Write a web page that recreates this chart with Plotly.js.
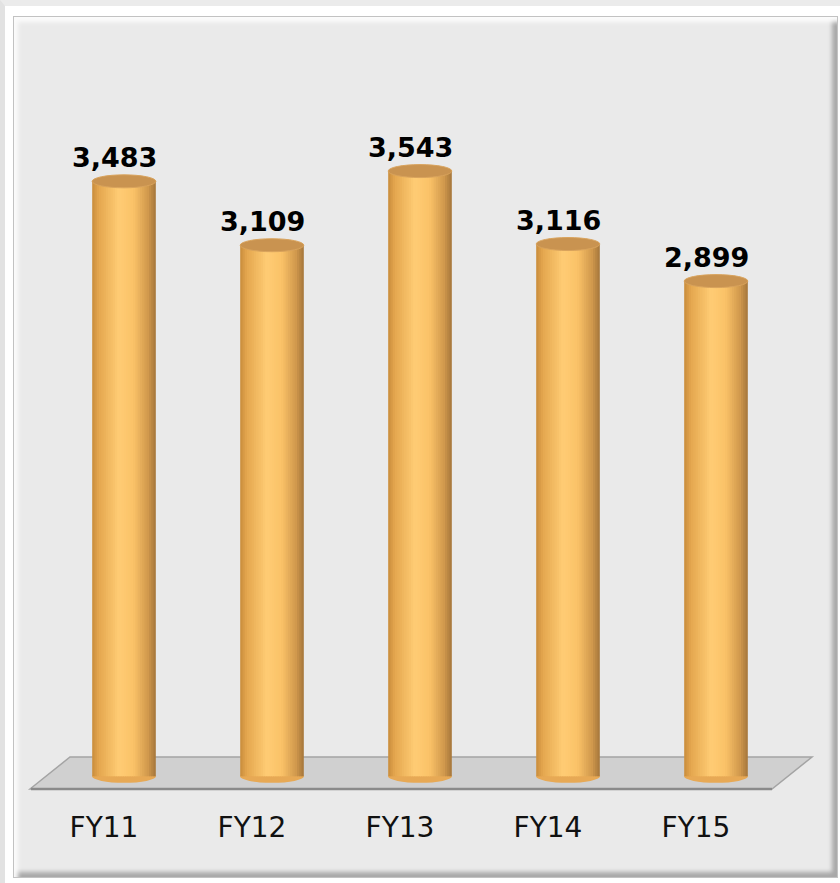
<!DOCTYPE html>
<html>
<head>
<meta charset="utf-8">
<script src="https://cdn.plot.ly/plotly-3.0.1.min.js"></script>
<style>
html,body{margin:0;padding:0;background:#fff;}
#wrap{position:relative;width:840px;height:883px;overflow:hidden;background:#fff;}
#outer{position:absolute;left:0;top:0;width:840px;height:883px;box-sizing:border-box;
  border-top:6px solid #ebebeb;border-left:5px solid #e2e2e2;}
#panel{position:absolute;left:13px;top:16px;width:825px;height:862px;box-sizing:border-box;
  background:#eaeaea;border:1px solid #c2c2c2;
  box-shadow: inset 4px 5px 4px #fbfbfb, inset -5px -5px 4px #a8a8a8;}
#chart{position:absolute;left:0;top:0;width:840px;height:883px;}
</style>
</head>
<body>
<div id="wrap">
  <div id="outer"></div>
  <div id="panel"></div>
  <div id="chart"></div>
</div>
<script>
// ---- data ----
const categories = ['FY11', 'FY12', 'FY13', 'FY14', 'FY15'];
const values = [3483, 3109, 3543, 3116, 2899];
const valueLabels = ['3,483', '3,109', '3,543', '3,116', '2,899'];

// ---- style ----
const positions = categories.map((c, i) => i);
const BW = 0.43;             // cylinder width (category units)
const EH = 38;               // ellipse half-height (value units)
const NSTRIP = 28;
const stops = [
  [0.00, [200, 140, 60]],
  [0.10, [228, 166, 78]],
  [0.42, [255, 204, 116]],
  [0.65, [250, 194, 104]],
  [0.88, [208, 152, 76]],
  [1.00, [165, 118, 60]]
];
function shade(t) {
  for (let k = 1; k < stops.length; k++) {
    if (t <= stops[k][0]) {
      const a = stops[k - 1], b = stops[k];
      const f = (t - a[0]) / (b[0] - a[0]);
      const c = a[1].map((v, j) => Math.round(v + (b[1][j] - v) * f));
      return 'rgb(' + c.join(',') + ')';
    }
  }
  return 'rgb(' + stops[stops.length - 1][1].join(',') + ')';
}

const traces = [];
const sw = BW / NSTRIP;
for (let i = 0; i < NSTRIP; i++) {
  const off = -BW / 2 + i * sw;
  const w = Math.min(sw * 1.4, BW / 2 - off);
  traces.push({
    type: 'bar',
    x: positions,
    y: values,
    width: positions.map(() => w),
    offset: positions.map(() => off),
    marker: {color: shade((i + 0.5) / NSTRIP), line: {width: 0}},
    hoverinfo: 'skip',
    showlegend: false
  });
}

const shapes = [];
// floor (pixel-derived paper coords)
const plotL = 50, plotW = 740, plotB = 802, plotH = 709;
const px = x => (x - plotL) / plotW;
const py = y => (plotB - y) / plotH;
shapes.push({
  type: 'path', xref: 'paper', yref: 'paper', layer: 'below',
  path: `M ${px(30)} ${py(789)} L ${px(70)} ${py(757)} L ${px(812)} ${py(757)} L ${px(772)} ${py(789)} Z`,
  fillcolor: '#d0d0d0', line: {color: '#a4a4a4', width: 1.5}
});
shapes.push({
  type: 'line', xref: 'paper', yref: 'paper', layer: 'below',
  x0: px(31), y0: py(789), x1: px(772), y1: py(789),
  line: {color: '#8a8a8a', width: 2.5}
});
// bottom ellipses
positions.forEach(p => {
  shapes.push({
    type: 'circle', xref: 'x', yref: 'y', layer: 'below',
    x0: p - BW / 2, x1: p + BW / 2, y0: -EH, y1: EH,
    fillcolor: '#e7a955', line: {width: 0}
  });
});
// top caps
positions.forEach((p, i) => {
  shapes.push({
    type: 'circle', xref: 'x', yref: 'y', layer: 'above',
    x0: p - BW / 2, x1: p + BW / 2, y0: values[i] - EH, y1: values[i] + EH,
    fillcolor: '#c99350', line: {color: '#d9a35c', width: 1}
  });
});

const annotations = positions.map((p, i) => ({
  x: p, y: values[i], xref: 'x', yref: 'y',
  text: '<b>' + valueLabels[i] + '</b>',
  showarrow: false, yanchor: 'bottom', xanchor: 'center',
  xshift: -10, yshift: 6,
  font: {family: 'DejaVu Sans', size: 27, color: '#000'}
}));

const layout = {
  width: 840, height: 883,
  margin: {l: 50, r: 50, t: 93, b: 81},
  paper_bgcolor: 'rgba(0,0,0,0)',
  plot_bgcolor: 'rgba(0,0,0,0)',
  barmode: 'overlay',
  showlegend: false,
  xaxis: {
    range: [-0.5, 4.5],
    tickvals: positions,
    ticktext: categories,
    showgrid: false, zeroline: false, showline: false,
    ticks: '',
    ticklabelshift: -20,
    ticklabelstandoff: 6,
    tickfont: {family: 'DejaVu Sans', size: 28, color: '#111'}
  },
  yaxis: {
    range: [-150, 4000],
    visible: false,
    showgrid: false, zeroline: false
  },
  shapes: shapes,
  annotations: annotations
};

Plotly.newPlot('chart', traces, layout, {displayModeBar: false, staticPlot: true});
</script>
</body>
</html>
